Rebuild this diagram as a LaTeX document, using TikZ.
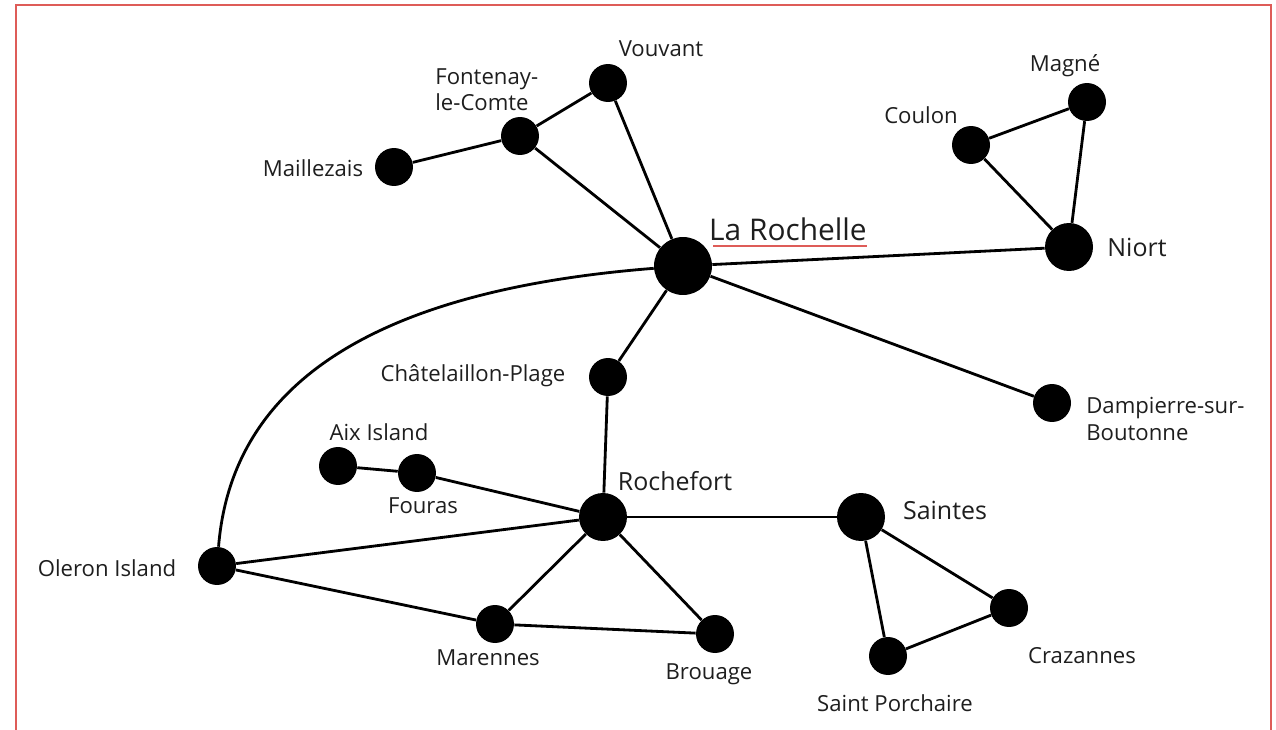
\documentclass[tikz,border=0pt]{standalone}
\usepackage{fontspec}
\setmainfont{Open Sans}
\definecolor{framered}{RGB}{222,92,88}
\definecolor{txtgray}{RGB}{30,30,30}
\tikzset{
  town/.style={circle, fill=black, inner sep=0pt, minimum size=0.76cm},
  city/.style={circle, fill=black, inner sep=0pt, minimum size=0.96cm},
  capital/.style={circle, fill=black, inner sep=0pt, minimum size=1.16cm},
  lbl/.style={text=txtgray, inner sep=0pt, font=\fontsize{12.6}{15}\selectfont},
  biglbl/.style={text=txtgray, inner sep=0pt, font=\fontsize{14.2}{17}\selectfont},
  road/.style={line width=1.6pt}
}
\begin{document}
\begin{tikzpicture}[x=0.02cm, y=-0.02cm]
  \useasboundingbox (0,0) rectangle (1276,730);
  % cadre
  \draw[framered, line width=1.2pt] (16,740) -- (16,5) -- (1271,5) -- (1271,740);

  % villes
  \node[capital] (larochelle) at (683,266) {};
  \node[city] (niort) at (1069,247) {};
  \node[city] (rochefort) at (603,517) {};
  \node[city] (saintes) at (861,517) {};
  \node[town] (magne) at (1087,102) {};
  \node[town] (coulon) at (971,145) {};
  \node[town] (dampierre) at (1052,403) {};
  \node[town] (vouvant) at (608,83) {};
  \node[town] (fontenay) at (520,136) {};
  \node[town] (maillezais) at (394,167) {};
  \node[town] (chatelaillon) at (608,377) {};
  \node[town] (aix) at (338,466) {};
  \node[town] (fouras) at (417,473) {};
  \node[town] (oleron) at (217,566) {};
  \node[town] (marennes) at (495,624) {};
  \node[town] (brouage) at (715,634) {};
  \node[town] (crazannes) at (1009,608) {};
  \node[town] (porchaire) at (888,656) {};

  % routes
  \draw[road] (maillezais) -- (fontenay) -- (vouvant) -- (larochelle) -- (fontenay);
  \draw[road] (larochelle) -- (niort) -- (coulon) -- (magne) -- (niort);
  \draw[road] (larochelle) -- (dampierre);
  \draw[road] (larochelle) -- (chatelaillon) -- (rochefort);
  \draw[road] (oleron) .. controls (232,380) and (380,290) .. (larochelle);
  \draw[road] (aix) -- (fouras) -- (rochefort);
  \draw[road] (oleron) -- (rochefort);
  \draw[road] (oleron) -- (marennes) -- (rochefort) -- (brouage) -- (marennes);
  \draw[road] (rochefort) -- (saintes);
  \draw[road] (saintes) -- (porchaire) -- (crazannes) -- (saintes);

  % noms
  \node[text=txtgray, inner sep=0pt, font=\fontsize{17}{20}\selectfont] (larochelle-t) at (788,229) {La Rochelle};
  \draw[framered, line width=1.7pt] (713,246) -- (867,246);
  \node[biglbl] (niort-t) at (1137,247) {Niort};
  \node[biglbl] (rochefort-t) at (675,481) {Rochefort};
  \node[biglbl] (saintes-t) at (945,510) {Saintes};
  \node[lbl] (magne-t) at (1065,66) {Magné};
  \node[lbl] (coulon-t) at (921,115) {Coulon};
  \node[lbl, align=left, anchor=west] (dampierre-t) at (1086,419) {Dampierre-sur-\\Boutonne};
  \node[lbl] (vouvant-t) at (661,49) {Vouvant};
  \node[lbl, align=left, anchor=west] (fontenay-t) at (435,90) {Fontenay-\\le-Comte};
  \node[lbl] (maillezais-t) at (313,168) {Maillezais};
  \node[lbl] (chatelaillon-t) at (473,376) {Châtelaillon-Plage};
  \node[lbl] (aix-t) at (379,432) {Aix Island};
  \node[lbl] (fouras-t) at (423,506) {Fouras};
  \node[lbl] (oleron-t) at (107,568) {Oleron Island};
  \node[lbl] (marennes-t) at (488,658) {Marennes};
  \node[lbl] (brouage-t) at (709,674) {Brouage};
  \node[lbl] (crazannes-t) at (1082,656) {Crazannes};
  \node[lbl] (porchaire-t) at (895,703) {Saint Porchaire};
\end{tikzpicture}
\end{document}
